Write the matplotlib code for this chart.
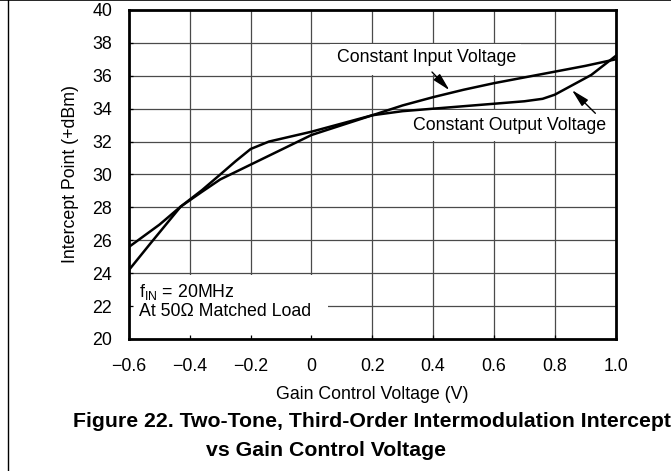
import matplotlib
matplotlib.use('Agg')
import matplotlib.pyplot as plt
from matplotlib.patches import Rectangle
from matplotlib.lines import Line2D

plt.rcParams['font.family'] = ['Liberation Sans', 'DejaVu Sans']
plt.rcParams['mathtext.fontset'] = 'custom'
plt.rcParams['mathtext.rm'] = 'Liberation Sans'
plt.rcParams['mathtext.it'] = 'Liberation Sans:italic'

# Constant Input Voltage curve
vin_x = [-0.6, -0.5, -0.43, -0.36, -0.3, -0.2, -0.1, 0.0, 0.1, 0.2, 0.3, 0.4,
         0.5, 0.6, 0.7, 0.8, 0.9, 1.0]
vin_y = [25.6, 26.95, 28.05, 28.95, 29.7, 30.6, 31.5, 32.4, 33.0, 33.6, 34.2, 34.7,
         35.15, 35.55, 35.9, 36.25, 36.6, 37.0]

# Constant Output Voltage curve
vout_x = [-0.6, -0.53, -0.43, -0.36, -0.3, -0.25, -0.2, -0.14, -0.07, 0.0, 0.1, 0.2,
          0.3, 0.4, 0.5, 0.6, 0.7, 0.76, 0.8, 0.85, 0.92, 1.0]
vout_y = [24.2, 25.8, 28.05, 29.05, 30.0, 30.8, 31.55, 32.0, 32.3, 32.6, 33.1, 33.6,
          33.85, 34.0, 34.15, 34.3, 34.45, 34.6, 34.85, 35.35, 36.05, 37.2]

xticks = [-0.6, -0.4, -0.2, 0, 0.2, 0.4, 0.6, 0.8, 1.0]
xlabels = ['\u22120.6', '\u22120.4', '\u22120.2', '0', '0.2', '0.4', '0.6', '0.8', '1.0']
yticks = [20, 22, 24, 26, 28, 30, 32, 34, 36, 38, 40]

FS = 12.8

fig = plt.figure(figsize=(6.71, 4.71), dpi=100)
ax = fig.add_axes([0.1923, 0.2803, 0.7251, 0.6985])

# grid drawn by hand so the white label boxes can sit on top of it
for xv in xticks[1:-1]:
    ax.axvline(xv, color='#4a4a4a', lw=0.9, zorder=1)
for yv in yticks[1:-1]:
    ax.axhline(yv, color='#4a4a4a', lw=0.9, zorder=1)

# white boxes behind the labels
ax.add_patch(Rectangle((-0.6, 20), 0.655, 3.9, facecolor='white', edgecolor='none', zorder=1.5))
ax.add_patch(Rectangle((0.06, 36.06), 0.63, 1.88, facecolor='white', edgecolor='none', zorder=1.5))
ax.add_patch(Rectangle((0.31, 32.06), 0.675, 1.88, facecolor='white', edgecolor='none', zorder=1.5))

ax.plot(vin_x, vin_y, color='black', lw=1.8, zorder=3, solid_joinstyle='round')
ax.plot(vout_x, vout_y, color='black', lw=1.8, zorder=3, solid_joinstyle='round')

ax.set_xlim(-0.6, 1.0)
ax.set_ylim(20, 40)
ax.set_xticks(xticks)
ax.set_xticklabels(xlabels)
ax.set_yticks(yticks)
ax.tick_params(direction='in', length=3, width=0.9, labelsize=FS)
ax.tick_params(axis='x', pad=14)
ax.tick_params(axis='y', pad=12)
for sp in ax.spines.values():
    sp.set_linewidth(2.0)

ax.set_xlabel('Gain Control Voltage (V)', fontsize=FS, va='center')
ax.xaxis.set_label_coords(0.5, (339 - 395) / 329)
ax.set_ylabel('Intercept Point (+dBm)', fontsize=FS, va='center')
ax.yaxis.set_label_coords((70 - 129) / 486.6, 0.5)

arrow = dict(arrowstyle='-|>,head_length=0.9,head_width=0.22', color='black',
             lw=1.0, mutation_scale=12)
ax.text(0.378, 37.1, 'Constant Input Voltage', fontsize=FS, ha='center', va='center', zorder=4)
ax.annotate('', xy=(0.46, 35.0), xytext=(0.39, 36.35), arrowprops=arrow, zorder=4)
ax.text(0.65, 32.95, 'Constant Output Voltage', fontsize=FS, ha='center', va='center', zorder=4)
ax.annotate('', xy=(0.85, 35.25), xytext=(0.94, 33.6), arrowprops=arrow, zorder=4)

ax.text(-0.568, 22.85, r'f$_{\mathrm{IN}}$ = 20MHz', fontsize=FS, ha='left', va='center', zorder=4)
ax.text(-0.568, 21.65, 'At 50\u03a9 Matched Load', fontsize=FS, ha='left', va='center', zorder=4)

fig.text(73 / 671, 1 - 421.7 / 471, 'Figure 22. Two-Tone, Third-Order Intermodulation Intercept',
         fontsize=15.3, fontweight='bold', ha='left', va='center')
fig.text(325.8 / 671, 1 - 450 / 471, 'vs Gain Control Voltage',
         fontsize=15.3, fontweight='bold', ha='center', va='center')

# page frame lines (top and left)
fig.add_artist(Line2D([0, 1], [0.999, 0.999], color='black', lw=1.2, transform=fig.transFigure))
fig.add_artist(Line2D([8 / 671, 8 / 671], [0, 1], color='black', lw=1.0, transform=fig.transFigure))

fig.savefig('out.png', dpi=100)
